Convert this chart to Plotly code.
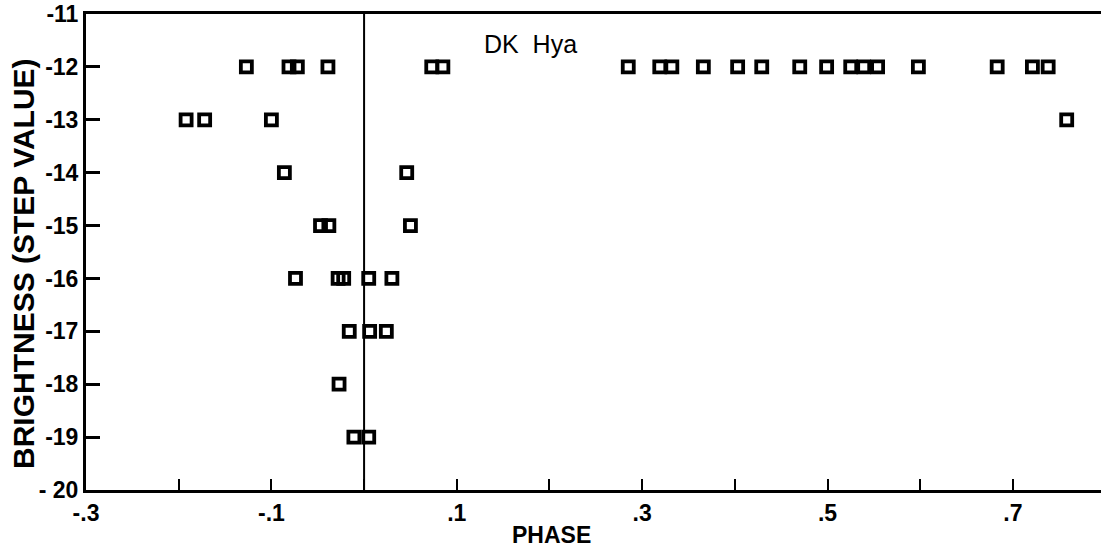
import plotly.graph_objects as go

# Data
phase = [
    -0.192, -0.172, -0.100,
    -0.127, -0.081, -0.072, -0.039, 0.073, 0.085,
    -0.086, 0.046,
    -0.047, -0.038, 0.050,
    -0.074, -0.028, -0.022, 0.005, 0.030,
    -0.016, 0.006, 0.024,
    -0.027,
    -0.011, 0.005,
    0.285, 0.319, 0.332, 0.366, 0.403, 0.429, 0.470, 0.499,
    0.525, 0.539, 0.554, 0.598, 0.683, 0.721, 0.738,
    0.758,
]
brightness = [
    -13, -13, -13,
    -12, -12, -12, -12, -12, -12,
    -14, -14,
    -15, -15, -15,
    -16, -16, -16, -16, -16,
    -17, -17, -17,
    -18,
    -19, -19,
    -12, -12, -12, -12, -12, -12, -12, -12,
    -12, -12, -12, -12, -12, -12, -12,
    -13,
]

x_tickvals = [-0.3, -0.2, -0.1, 0.0, 0.1, 0.2, 0.3, 0.4, 0.5, 0.6, 0.7]
x_ticktext = ["-.3", "", "-.1", "", ".1", "", ".3", "", ".5", "", ".7"]
y_tickvals = [-20, -19, -18, -17, -16, -15, -14, -13, -12, -11]
y_ticktext = ["- 20", "-19", "-18", "-17", "-16", "-15", "-14", "-13", "-12", "-11"]

FONT = "Liberation Sans"

fig = go.Figure()
fig.add_trace(go.Scatter(
    x=phase, y=brightness, mode="markers",
    marker=dict(symbol="square-open", size=11, color="black",
                line=dict(width=3.8, color="black")),
    showlegend=False, cliponaxis=False,
))

fig.add_shape(type="line", xref="x", yref="paper", x0=0, x1=0, y0=0, y1=1,
              line=dict(color="black", width=2))

fig.add_annotation(text="DK  Hya", xref="x", yref="y", x=0.18, y=-11.57,
                   xanchor="center", yanchor="middle",
                   showarrow=False, font=dict(family=FONT, size=25, color="black"))
fig.add_annotation(text="PHASE", xref="paper", yref="paper", x=(551 - 86) / 1015, y=-0.094,
                   xanchor="center", yanchor="middle",
                   showarrow=False, font=dict(family=FONT, size=23, color="black", weight="bold"))
fig.add_annotation(text="BRIGHTNESS (STEP VALUE)", xref="paper", yref="paper",
                   x=(23 - 86) / 1015, y=(490 - 264) / 476, textangle=-90,
                   xanchor="center", yanchor="middle",
                   showarrow=False, font=dict(family=FONT, size=30, color="black", weight="bold"))

fig.update_layout(
    width=1101, height=548,
    margin=dict(l=86, r=0, t=14, b=58),
    paper_bgcolor="white", plot_bgcolor="white",
    font=dict(family=FONT, color="black"),
    xaxis=dict(range=[-0.3, 0.795], tickvals=x_tickvals, ticktext=x_ticktext,
               ticks="inside", ticklen=11, tickwidth=2, tickcolor="black",
               showline=True, linewidth=3, linecolor="black", mirror=True,
               showgrid=False, zeroline=False, automargin=False,
               tickfont=dict(family=FONT, size=23, color="black", weight="bold")),
    yaxis=dict(range=[-20, -11], tickvals=y_tickvals, ticktext=y_ticktext,
               ticks="inside", ticklen=14, tickwidth=3, tickcolor="black",
               showline=True, linewidth=3, linecolor="black",
               showgrid=False, zeroline=False, automargin=False,
               tickfont=dict(family=FONT, size=23, color="black", weight="bold")),
)

# remove the default 8px page margin so the figure fills the window exactly
fig.write_html("out.html", config={"displayModeBar": False},
               post_script="document.body.style.margin='0px';")
